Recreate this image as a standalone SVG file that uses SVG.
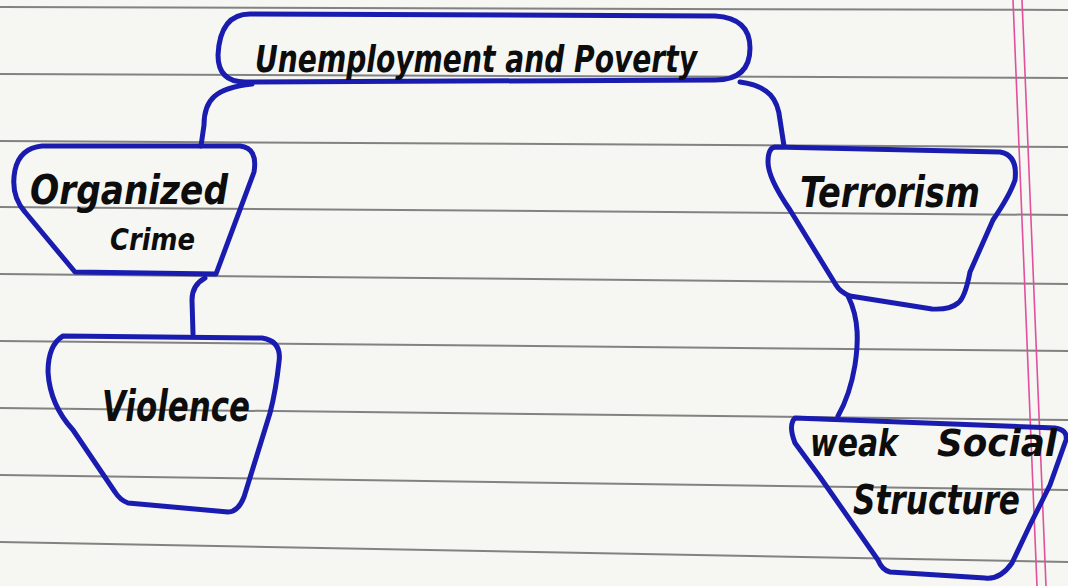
<svg xmlns="http://www.w3.org/2000/svg" width="1068" height="586" viewBox="0 0 1068 586">
  <defs>
    <style>
      .paper { fill: #f6f6f3; }
      .rule { stroke: #666; stroke-width: 2; opacity: 0.8; }
      .margin { stroke: #e0509c; stroke-width: 1.6; fill: none; }
      .box { fill: none; stroke: #1a1cb0; stroke-width: 5; stroke-linejoin: round; stroke-linecap: round; }
      .link { fill: none; stroke: #1a1cb0; stroke-width: 5; stroke-linecap: round; }
      .hw { font-family: "DejaVu Sans Condensed", "DejaVu Sans", sans-serif; font-weight: bold; font-style: italic; fill: #0d0d0d; }
    </style>
  </defs>

  <rect class="paper" x="0" y="0" width="1068" height="586"/>

  <g id="ruled-paper">
    <line class="rule" x1="0" y1="7" x2="1068" y2="10"/>
    <line class="rule" x1="0" y1="74" x2="1068" y2="78"/>
    <line class="rule" x1="0" y1="141" x2="1068" y2="147"/>
    <line class="rule" x1="0" y1="207" x2="1068" y2="215"/>
    <line class="rule" x1="0" y1="274" x2="1068" y2="284"/>
    <line class="rule" x1="0" y1="341" x2="1068" y2="351"/>
    <line class="rule" x1="0" y1="408" x2="1068" y2="420"/>
    <line class="rule" x1="0" y1="475" x2="1068" y2="490"/>
    <line class="rule" x1="0" y1="542" x2="1068" y2="562"/>
    <line class="margin" x1="1013" y1="0" x2="1037" y2="586"/>
    <line class="margin" x1="1022" y1="0" x2="1046" y2="586"/>
  </g>

  <g id="connectors">
    <path class="link" d="M 252 84 C 215 88 204 100 204 125 L 201 146"/>
    <path class="link" d="M 740 82 C 770 86 778 100 780 120 L 784 146"/>
    <path class="link" d="M 205 278 Q 192 285 192 300 L 193 334"/>
    <path class="link" d="M 848 296 C 860 320 858 345 855 365 Q 850 395 838 416"/>
  </g>

  <g id="node-unemployment">
    <path class="box" d="M 250 14 L 715 16 Q 750 18 750 48 Q 750 80 715 80 L 245 82 Q 218 82 218 55 Q 220 14 250 14 Z"/>
    <text class="hw" x="255" y="72" font-size="38" textLength="442" lengthAdjust="spacingAndGlyphs">Unemployment and Poverty</text>
  </g>

  <g id="node-organized-crime">
    <path class="box" d="M 42 146 L 240 146 Q 258 148 254 172 L 216 274 L 75 272 L 25 212 Q 10 195 15 170 Q 20 148 42 146 Z"/>
    <text class="hw" x="30" y="204" font-size="40" textLength="198" lengthAdjust="spacingAndGlyphs">Organized</text>
    <text class="hw" x="110" y="250" font-size="31" textLength="85" lengthAdjust="spacingAndGlyphs">Crime</text>
  </g>

  <g id="node-violence">
    <path class="box" d="M 63 336 L 262 338 Q 282 341 279 362 Q 276 390 270 413 L 244 497 Q 238 512 228 512 L 128 503 Q 120 500 115 492 L 73 430 Q 50 405 48 372 Q 48 345 63 336 Z"/>
    <text class="hw" x="102" y="421" font-size="42" textLength="148" lengthAdjust="spacingAndGlyphs">Violence</text>
  </g>

  <g id="node-terrorism">
    <path class="box" d="M 775 147 L 1000 152 Q 1018 155 1015 180 Q 1010 195 993 220 L 970 272 Q 965 298 958 303 Q 950 310 932 309 L 850 296 Q 840 292 836 285 L 790 210 Q 768 178 768 162 Q 768 148 775 147 Z"/>
    <text class="hw" x="800" y="207" font-size="42" textLength="180" lengthAdjust="spacingAndGlyphs">Terrorism</text>
  </g>

  <g id="node-weak-social-structure">
    <path class="box" d="M 795 418 L 1055 428 Q 1068 430 1066 440 L 1050 485 L 1030 525 L 1012 563 Q 1000 580 985 578 L 890 572 Q 882 570 878 560 L 820 477 L 795 443 Q 788 425 795 418 Z"/>
    <text class="hw" y="456" font-size="38"><tspan x="810" textLength="88" lengthAdjust="spacingAndGlyphs">weak</tspan><tspan x="937" textLength="120" lengthAdjust="spacingAndGlyphs">Social</tspan></text>
    <text class="hw" x="853" y="514" font-size="40" textLength="167" lengthAdjust="spacingAndGlyphs">Structure</text>
  </g>
</svg>
